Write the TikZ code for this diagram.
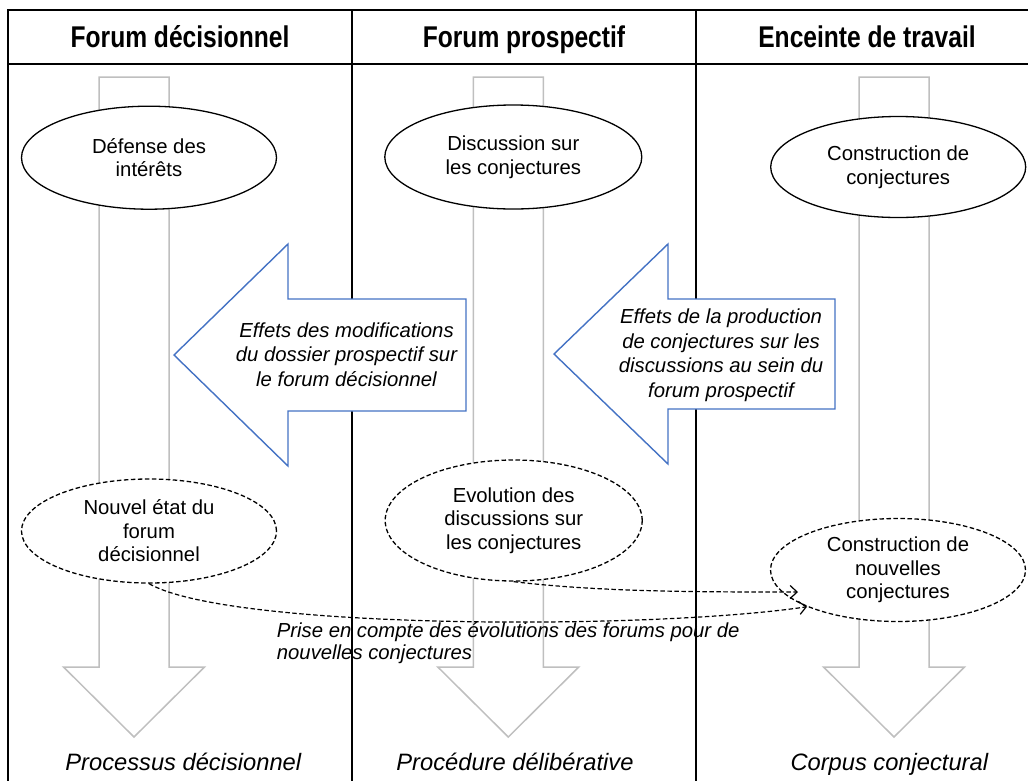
\documentclass[tikz,border=0pt]{standalone}
\usepackage{fontspec}
\setmainfont{Liberation Sans}
\usepackage{graphicx}
\usetikzlibrary{shapes.geometric,arrows.meta,calc}
\definecolor{arrowgray}{RGB}{191,191,191}
\definecolor{blueline}{RGB}{68,114,196}
\begin{document}
\begin{tikzpicture}[x=1pt,y=-1pt,
  frameline/.style={line width=1.6pt,black},
  grayarrow/.style={draw=arrowgray,line width=1.5pt,line join=miter},
  bluearrow/.style={draw=blueline,fill=white,line width=1.4pt,line join=miter},
  solidell/.style={ellipse,draw,fill=white,line width=1.3pt,inner sep=0pt,align=center,font=\fontsize{20.3}{23.5}\selectfont},
  dashell/.style={solidell,dash pattern=on 4.5pt off 2.5pt},
  header/.style={inner sep=0pt,anchor=base,font=\fontsize{30}{36}\selectfont\bfseries},
  bottomlabel/.style={inner sep=0pt,anchor=base,font=\fontsize{23.7}{28}\selectfont\itshape},
  bluetext/.style={align=center,font=\fontsize{20.3}{24.5}\selectfont\itshape,inner sep=0pt},
  conn/.style={line width=1.2pt,dash pattern=on 4.5pt off 2.5pt,-{Straight Barb[length=7pt,width=13pt]}}
]
\useasboundingbox (0,0) rectangle (1028,780);

% big gray down arrows
\foreach \c in {134,508.3,894}{
  \draw[grayarrow] (\c-35,77) -- (\c+35,77) -- (\c+35,667) -- (\c+70.5,667) -- (\c,737) -- (\c-70.5,667) -- (\c-35,667) -- cycle;
}

% frame
\draw[frameline] (8,782) -- (8,10) -- (1030,10);
\draw[frameline] (8,64) -- (1030,64);
\draw[frameline] (352,10) -- (352,782);
\draw[frameline] (696,10) -- (696,782);

% headers
\node[header] (h1) at (180,47) {\scalebox{0.82}[1]{Forum décisionnel}};
\node[header] (h2) at (524,47) {\scalebox{0.82}[1]{Forum prospectif}};
\node[header] (h3) at (867,47) {\scalebox{0.82}[1]{Enceinte de travail}};

% blue block arrows
\draw[bluearrow] (174,355) -- (288,244) -- (288,299) -- (466,299) -- (466,411) -- (288,411) -- (288,466) -- cycle;
\draw[bluearrow] (554,354) -- (668,244) -- (668,299) -- (835,299) -- (835,409) -- (668,409) -- (668,464) -- cycle;
\node[bluetext] (t1) at (346.5,354.5) {Effets des modifications\\du dossier prospectif sur\\le forum décisionnel};
\node[bluetext] (t2) at (721,355) {Effets de la production\\de conjectures sur les\\discussions au sein du\\forum prospectif};

% ellipses
\node[solidell,minimum width=255pt,minimum height=103pt] (e1) at (149,157.7) {Défense des\\intérêts};
\node[solidell,minimum width=257pt,minimum height=104pt] (e2) at (513.3,157) {Discussion sur\\les conjectures};
\node[solidell,minimum width=255pt,minimum height=101pt] (e3) at (898.2,167) {Construction de\\conjectures};

\node[dashell,minimum width=255pt,minimum height=104pt] (d1) at (149,531) {Nouvel état du\\forum\\décisionnel};
\node[dashell,minimum width=257pt,minimum height=121pt] (d2) at (513.7,520.5) {Evolution des\\discussions sur\\les conjectures};
\node[dashell,minimum width=255pt,minimum height=103pt] (d3) at (898,570) {Construction de\\nouvelles\\conjectures};

% dashed connectors
\draw[conn] (d1.south) .. controls (230,630) and (650,630) .. (d3.202);
\draw[conn] (d2.south) .. controls (600,592) and (700,592) .. ([shift={(-100,22)}]d3.center);

\node[anchor=west,align=left,inner sep=0pt,font=\fontsize{20.3}{22}\selectfont\itshape] (p) at (276.7,643)
  {Prise en compte des évolutions des forums pour de\\nouvelles conjectures};

% bottom labels
\node[bottomlabel] (b1) at (183.3,770) {Processus décisionnel};
\node[bottomlabel] (b2) at (515,770) {Procédure délibérative};
\node[bottomlabel] (b3) at (889.3,770) {Corpus conjectural};
\end{tikzpicture}
\end{document}
